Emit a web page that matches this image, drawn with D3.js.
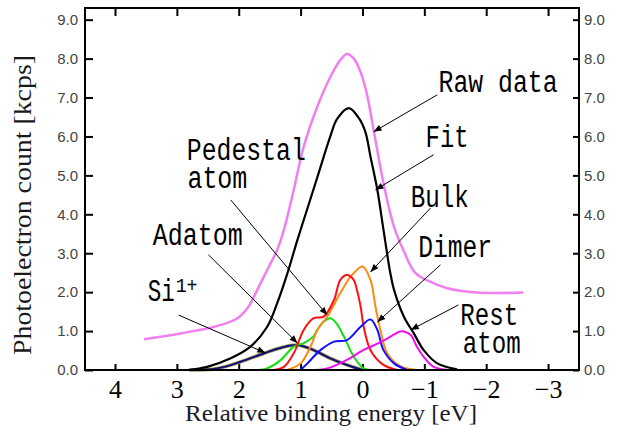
<!DOCTYPE html>
<html>
<head>
<meta charset="utf-8">
<script src="https://cdn.jsdelivr.net/npm/d3@7"></script>
<style>
  body { margin: 0; background: #fff; }
  .tick line { stroke: #000; stroke-width: 2; }
  .domain { display: none; }
</style>
</head>
<body>
<div id="chart"></div>
<script>
// Si 2p spectrum (eV, kcps)
const rawE = [3.53, 2.94, 2.4, 2.02, 1.84, 1.70, 1.54, 1.38, 1.27, 1.11, 0.95, 0.73, 0.48, 0.35, 0.25, 0.13, 0.03, -0.07, -0.18, -0.34, -0.51, -0.67, -0.85, -1.05, -1.37, -1.85, -2.6];
const rawV = [0.79, 0.94, 1.11, 1.33, 1.63, 2.06, 2.57, 3.08, 3.6, 4.63, 5.74, 6.77, 7.65, 7.98, 8.12, 7.98, 7.65, 7.1, 6.17, 4.8, 3.68, 3.05, 2.5, 2.3, 2.1, 1.99, 1.99];

const fitE = [2.83, 2.51, 2.13, 1.81, 1.54, 1.38, 1.22, 1.05, 0.89, 0.73, 0.52, 0.41, 0.22, 0.05, -0.05, -0.13, -0.24, -0.34, -0.45, -0.51, -0.67, -0.83, -0.99, -1.21, -1.53];
const fitV = [0, 0.08, 0.3, 0.6, 1.11, 1.71, 2.45, 3.35, 4.15, 4.95, 6.0, 6.45, 6.73, 6.45, 6.1, 5.48, 4.63, 3.6, 2.49, 2.06, 1.37, 0.94, 0.51, 0.17, 0.02];

const redE = [1.44, 1.27, 1.11, 0.95, 0.79, 0.63, 0.46, 0.36, 0.25, 0.14, 0.09, 0.03, -0.02, -0.13, -0.34, -0.56];
const redV = [0, 0.08, 0.43, 1.03, 1.33, 1.37, 1.8, 2.31, 2.44, 2.31, 2.06, 1.63, 1.11, 0.51, 0.13, 0];

const bulkE = [1.22, 1.0, 0.84, 0.73, 0.57, 0.36, 0.19, 0.0, -0.13, -0.21, -0.29, -0.4, -0.61, -0.88];
const bulkV = [0, 0.17, 0.6, 1.03, 1.37, 1.97, 2.4, 2.66, 2.31, 1.63, 1.03, 0.43, 0.1, 0];

const pedE = [1.7, 1.54, 1.32, 1.11, 0.95, 0.8, 0.73, 0.62, 0.52, 0.42, 0.3, 0.14, -0.02, -0.18];
const pedV = [0, 0.04, 0.26, 0.6, 0.69, 0.85, 1.03, 1.25, 1.33, 1.2, 0.86, 0.34, 0.04, 0];

const dimerE = [1.0, 0.89, 0.68, 0.46, 0.25, 0.03, -0.13, -0.24, -0.34, -0.51, -0.72];
const dimerV = [0, 0.17, 0.51, 0.73, 0.77, 1.11, 1.3, 1.03, 0.51, 0.17, 0];

const restE = [0.9, 0.57, 0.25, 0.0, -0.3, -0.61, -0.67, -0.78, -0.88, -0.99, -1.15, -1.4];
const restV = [0, 0.04, 0.26, 0.5, 0.72, 0.99, 0.99, 0.9, 0.6, 0.34, 0.08, 0];

const si1E = [2.8, 2.35, 1.97, 1.59, 1.3, 1.05, 0.79, 0.52, 0.25, 0.0];
const si1V = [0, 0.04, 0.21, 0.43, 0.58, 0.64, 0.51, 0.3, 0.13, 0];

const xTicks = [4, 3, 2, 1, 0, -1, -2, -3];
const yTicks = [0, 1, 2, 3, 4, 5, 6, 7, 8, 9];

// labels: text, energy, count at baseline, width in px
const labels = [
  ["Raw data", -1.23, 7.15, 119],
  ["Fit", -1.02, 5.73, 43],
  ["Pedestal", 2.84, 5.4, 119],
  ["atom", 2.83, 4.68, 60],
  ["Bulk", -0.78, 4.19, 58],
  ["Adatom", 3.39, 3.21, 90],
  ["Dimer", -0.9, 2.9, 74],
  ["Rest", -1.58, 1.16, 58],
  ["atom", -1.62, 0.44, 58]
];
// arrows: from (E,V) to tip (E,V)
const arrows = [
  [-1.21, 7.07, -0.18, 6.12],
  [-1.15, 5.53, -0.21, 4.63],
  [-1.10, 4.16, -0.13, 2.52],
  [-1.26, 2.70, -0.24, 1.23],
  [-1.55, 1.67, -0.78, 1.03],
  [2.13, 4.37, 0.57, 1.41],
  [2.49, 2.96, 1.05, 0.69],
  [2.97, 1.41, 1.57, 0.44]
];

const W = 617, H = 432;
const x = d3.scaleLinear().domain([4.485, -3.5]).range([85, 579]);
const y = d3.scaleLinear().domain([0, 9.3]).range([370, 8]);

const svg = d3.select("#chart").append("svg")
  .attr("width", W).attr("height", H);

svg.append("defs").append("marker")
  .attr("id", "head")
  .attr("viewBox", "0 0 10 10")
  .attr("refX", 10).attr("refY", 5)
  .attr("markerUnits", "userSpaceOnUse")
  .attr("markerWidth", 10).attr("markerHeight", 8)
  .attr("orient", "auto")
  .append("path").attr("d", "M0,1 L10,5 L0,9 Z").attr("fill", "#000");

// axes
const gx = svg.append("g").attr("transform", "translate(0,370)")
  .call(d3.axisBottom(x).tickValues(xTicks).tickSize(-6).tickPadding(10));
gx.selectAll("text")
  .attr("font-family", "Liberation Serif").attr("font-size", 26).attr("fill", "#000");

svg.append("g").attr("transform", "translate(0,8)")
  .call(d3.axisTop(x).tickValues(xTicks).tickSize(-8).tickFormat(""));

const gl = svg.append("g").attr("transform", "translate(85,0)")
  .call(d3.axisLeft(y).tickValues(yTicks).tickSize(-8).tickPadding(7).tickFormat(d3.format(".1f")));
const gr = svg.append("g").attr("transform", "translate(579,0)")
  .call(d3.axisRight(y).tickValues(yTicks).tickSize(-6).tickPadding(5).tickFormat(d3.format(".1f")));
[gl, gr].forEach(g => g.selectAll("text")
  .attr("font-family", "Liberation Sans").attr("font-size", 15).attr("fill", "#444"));

// curves
const line = d3.line().x(d => x(d[0])).y(d => y(d[1])).curve(d3.curveCatmullRom.alpha(0.5));
const zip = (e, v) => e.map((d, i) => [d, v[i]]);

const series = [
  { e: rawE, v: rawV, color: "#f080f0", w: 2.5 },
  { e: si1E, v: si1V, color: "#a09a50", w: 3.5 },
  { e: si1E, v: si1V, color: "#10107a", w: 2 },
  { e: pedE, v: pedV, color: "#10e010", w: 2 },
  { e: bulkE, v: bulkV, color: "#ff8a10", w: 2 },
  { e: redE, v: redV, color: "#ff1010", w: 2 },
  { e: dimerE, v: dimerV, color: "#1010ff", w: 2 },
  { e: restE, v: restV, color: "#ee10ee", w: 2 },
  { e: fitE, v: fitV, color: "#000", w: 2.2 }
];
svg.append("g").selectAll("path").data(series).join("path")
  .attr("d", s => line(zip(s.e, s.v)))
  .attr("fill", "none")
  .attr("stroke", s => s.color)
  .attr("stroke-width", s => s.w);

// frame
svg.append("rect").attr("x", 85).attr("y", 8).attr("width", 579 - 85).attr("height", 370 - 8)
  .attr("fill", "none").attr("stroke", "#000").attr("stroke-width", 2);

// arrows
svg.append("g").selectAll("line").data(arrows).join("line")
  .attr("x1", d => x(d[0])).attr("y1", d => y(d[1]))
  .attr("x2", d => x(d[2])).attr("y2", d => y(d[3]))
  .attr("stroke", "#000").attr("stroke-width", 1)
  .attr("marker-end", "url(#head)");

// labels
svg.append("g").selectAll("text").data(labels).join("text")
  .attr("x", d => x(d[1])).attr("y", d => y(d[2]))
  .attr("textLength", d => d[3]).attr("lengthAdjust", "spacingAndGlyphs")
  .attr("font-family", "Liberation Mono").attr("font-size", 31)
  .attr("fill", "#000")
  .text(d => d[0]);

svg.append("text")
  .attr("x", x(3.47)).attr("y", y(1.76))
  .attr("textLength", 27).attr("lengthAdjust", "spacingAndGlyphs")
  .attr("font-family", "Liberation Mono").attr("font-size", 31).attr("fill", "#000")
  .text("Si");
svg.append("text")
  .attr("x", x(3.02)).attr("y", y(2.0))
  .attr("textLength", 22).attr("lengthAdjust", "spacingAndGlyphs")
  .attr("font-family", "Liberation Mono").attr("font-size", 20).attr("fill", "#000")
  .text("1+");

// axis titles
svg.append("text")
  .attr("x", 331).attr("y", 421).attr("text-anchor", "middle")
  .attr("textLength", 292).attr("lengthAdjust", "spacingAndGlyphs")
  .attr("font-family", "Liberation Serif").attr("font-size", 24).attr("fill", "#1a1a2a")
  .text("Relative binding energy [eV]");

svg.append("text")
  .attr("transform", "translate(31,205) rotate(-90)").attr("text-anchor", "middle")
  .attr("textLength", 300).attr("lengthAdjust", "spacingAndGlyphs")
  .attr("font-family", "Liberation Serif").attr("font-size", 25).attr("fill", "#1a1a1a")
  .text("Photoelectron count [kcps]");
</script>
</body>
</html>
